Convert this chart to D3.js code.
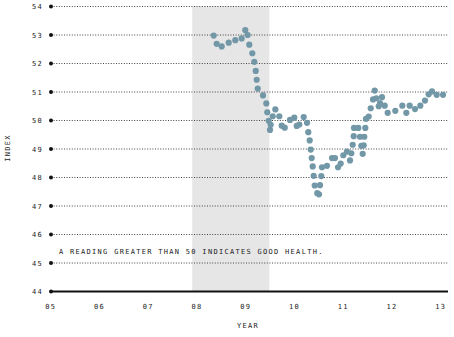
<!DOCTYPE html>
<html><head><meta charset="utf-8">
<script src="https://cdn.jsdelivr.net/npm/d3@7"></script>
<style>
html,body{margin:0;padding:0;background:#fff;}
text{font-family:"DejaVu Sans Mono",monospace;font-size:7px;letter-spacing:1.3px;fill:#222;}
</style></head>
<body><svg id="c" width="454" height="337"></svg>
<script>
const dates = [2008.358,2008.419,2008.522,2008.666,2008.801,2008.932,2009.006,2009.055,2009.088,2009.150,
2009.191,2009.220,2009.240,2009.261,2009.369,2009.437,2009.457,2009.486,2009.527,2009.513,
2009.568,2009.622,2009.704,2009.753,2009.815,2009.923,2010.011,2010.061,2010.114,2010.204,
2010.272,2010.298,2010.327,2010.348,2010.368,2010.389,2010.409,2010.430,2010.483,2010.518,
2010.538,2010.565,2010.579,2010.682,2010.785,2010.846,2010.908,2010.963,2011.017,2011.092,
2011.154,2011.181,2011.209,2011.230,2011.236,2011.324,2011.359,2011.386,2011.414,2011.435,
2011.447,2011.468,2011.482,2011.537,2011.579,2011.626,2011.661,2011.694,2011.743,2011.769,
2011.810,2011.866,2011.927,2012.083,2012.227,2012.309,2012.378,2012.487,2012.596,2012.692,
2012.768,2012.836,2012.932,2013.062];
const values = [52.98,52.69,52.60,52.73,52.82,52.88,53.17,53.00,52.66,52.36,
52.06,51.74,51.43,51.12,50.88,50.60,50.29,49.99,49.85,49.67,
50.15,50.39,50.15,49.82,49.75,50.02,50.10,49.81,49.86,50.12,
49.92,49.59,49.30,48.98,48.68,48.39,48.06,47.72,47.45,47.41,
47.73,48.05,48.36,48.41,48.68,48.68,48.36,48.49,48.78,48.91,
48.60,48.85,49.15,49.45,49.74,49.74,49.43,49.11,48.83,49.13,
49.43,49.74,50.06,50.14,50.43,50.74,51.05,50.78,50.50,50.61,
50.82,50.52,50.27,50.34,50.52,50.27,50.52,50.40,50.52,50.70,
50.92,51.02,50.90,50.90];
const yTicks = [44,45,46,47,48,49,50,51,52,53,54];
const xTicks = [2005,2006,2007,2008,2009,2010,2011,2012,2013];
const xTickLabels = ["05","06","07","08","09","10","11","12","13"];
const recession = [2007.917, 2009.5];
const note = "A READING GREATER THAN 50 INDICATES GOOD HEALTH.";

const svg = d3.select("#c");
const x = d3.scaleLinear().domain([2005,2013]).range([50,440]);
const y = d3.scaleLinear().domain([44,54]).range([291.5,6.5]);
const x0 = 51, x1 = 448;

svg.append("rect").attr("x",x(recession[0])).attr("y",y(54)-0.5)
  .attr("width",x(recession[1])-x(recession[0])).attr("height",y(44)-y(54)+0.5)
  .attr("fill","#e6e6e6");

svg.selectAll("line.grid").data(yTicks.filter(d=>d>44)).enter().append("line")
  .attr("x1",x0).attr("x2",x1).attr("y1",d=>y(d)).attr("y2",d=>y(d))
  .attr("stroke","#444").attr("stroke-width",1).attr("stroke-dasharray","1,1.6");

svg.append("line").attr("x1",x0).attr("x2",x1).attr("y1",y(44)).attr("y2",y(44))
  .attr("stroke","#111").attr("stroke-width",2);

svg.selectAll("circle.tk").data(yTicks).enter().append("circle")
  .attr("cx",x0).attr("cy",d=>y(d)).attr("r",2).attr("fill","#111");

svg.selectAll("text.yl").data(yTicks).enter().append("text")
  .attr("x",43).attr("y",d=>y(d)+2.5).attr("text-anchor","end").text(d=>d);

svg.selectAll("text.xl").data(xTicks).enter().append("text")
  .attr("x",d=>x(d)+0.7).attr("y",309).attr("text-anchor","middle").text((d,i)=>xTickLabels[i]);

svg.append("text").attr("x",248).attr("y",328).attr("text-anchor","middle").text("YEAR");
svg.append("text").attr("transform","translate(10,148) rotate(-90)").attr("text-anchor","middle").text("INDEX");
svg.append("text").attr("x",59).attr("y",254).text(note);

svg.selectAll("circle.pt").data(dates).enter().append("circle")
  .attr("cx",d=>x(d)).attr("cy",(d,i)=>y(values[i])).attr("r",3.1)
  .attr("fill","#7298a8");
</script></body></html>
